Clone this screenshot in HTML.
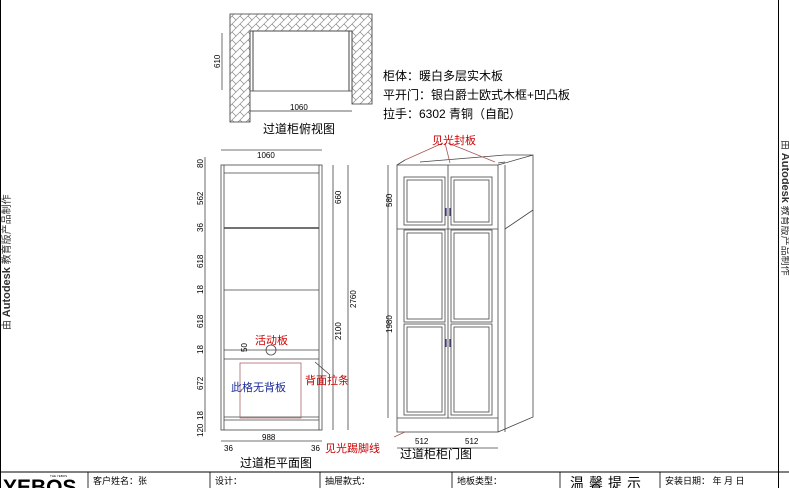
<!DOCTYPE html>
<html><head><meta charset="utf-8"><style>
body{margin:0;background:#fff;}
svg{display:block;font-family:"Liberation Sans","Noto Sans CJK SC",sans-serif;}
</style></head><body>
<svg width="789" height="488" viewBox="0 0 789 488" xmlns="http://www.w3.org/2000/svg">
<defs>
<pattern id="hb" width="8" height="8" patternUnits="userSpaceOnUse">
<path d="M0 8 L8 0 M-2 2 L2 -2 M6 10 L10 6" stroke="#888" stroke-width="0.7"/>
<path d="M0 0 L4 4" stroke="#888" stroke-width="0.7"/>
</pattern>
</defs>
<rect width="789" height="488" fill="#fff"/>
<line x1="0.5" y1="0" x2="0.5" y2="488" stroke="#000"/>
<line x1="778.5" y1="0" x2="778.5" y2="488" stroke="#000"/>
<text transform="translate(10,330) rotate(-90)" font-size="10" fill="#333">由 <tspan font-weight="bold" font-size="11">Autodesk</tspan> 教育版产品制作</text>
<text transform="translate(782,140) rotate(90)" font-size="10" fill="#333">由 <tspan font-weight="bold" font-size="11">Autodesk</tspan> 教育版产品制作</text>

<path d="M230 14 H372 V104 H352 V31 H250 V122 H230 Z" fill="url(#hb)" stroke="#333" stroke-width="0.8"/>
<rect x="250" y="31" width="102" height="60" fill="none" stroke="#444" stroke-width="0.8"/>
<line x1="253" y1="31" x2="253" y2="91" stroke="#444"/><line x1="349" y1="31" x2="349" y2="91" stroke="#444"/>
<line x1="222" y1="33" x2="222" y2="90" stroke="#333" stroke-width="0.7"/>
<text transform="translate(220,68) rotate(-90)" font-size="8">610</text>
<line x1="250" y1="111" x2="352" y2="111" stroke="#333" stroke-width="0.7"/>
<text x="290" y="110" font-size="8">1060</text>
<text x="263" y="133" font-size="12">过道柜俯视图</text>

<text x="383" y="80" font-size="12">柜体：暖白多层实木板</text>
<text x="383" y="99" font-size="12">平开门：银白爵士欧式木框+凹凸板</text>
<text x="383" y="118" font-size="12">拉手：6302 青铜（自配）</text>

<g stroke="#444" stroke-width="0.8" fill="none">
<rect x="221" y="165" width="101" height="265"/>
<line x1="224" y1="165" x2="224" y2="430"/><line x1="319" y1="165" x2="319" y2="430"/>
<line x1="224" y1="173" x2="319" y2="173"/>
<line x1="224" y1="228" x2="319" y2="228" stroke-width="1.6"/>
<line x1="224" y1="290" x2="319" y2="290"/>
<line x1="224" y1="350" x2="319" y2="350"/><line x1="224" y1="359" x2="319" y2="359"/>
<line x1="224" y1="417" x2="319" y2="417"/><line x1="224" y1="420" x2="319" y2="420"/>
<rect x="240" y="363" width="61" height="55" stroke="#a66"/>
<circle cx="271" cy="350" r="5"/>
<line x1="205" y1="157" x2="205" y2="432"/>
<line x1="333" y1="165" x2="333" y2="430"/><line x1="348" y1="165" x2="348" y2="430"/>
<line x1="221" y1="441" x2="322" y2="441"/>
<line x1="221" y1="150" x2="322" y2="150"/>
<line x1="315" y1="362" x2="330" y2="375"/>
</g>
<g font-size="8">
<text x="257" y="158">1060</text>
<text transform="translate(203,168) rotate(-90)">80</text>
<text transform="translate(203,205) rotate(-90)">562</text>
<text transform="translate(203,232) rotate(-90)">36</text>
<text transform="translate(203,268) rotate(-90)">618</text>
<text transform="translate(203,294) rotate(-90)">18</text>
<text transform="translate(203,328) rotate(-90)">618</text>
<text transform="translate(203,354) rotate(-90)">18</text>
<text transform="translate(203,390) rotate(-90)">672</text>
<text transform="translate(203,420) rotate(-90)">18</text>
<text transform="translate(203,437) rotate(-90)">120</text>
<text transform="translate(247,352) rotate(-90)">50</text>
<text transform="translate(341,204) rotate(-90)">660</text>
<text transform="translate(341,340) rotate(-90)">2100</text>
<text transform="translate(356,308) rotate(-90)">2760</text>
<text x="262" y="440">988</text>
<text x="224" y="451">36</text><text x="311" y="451">36</text>
</g>
<text x="255" y="344" font-size="11" fill="#c00">活动板</text>
<text x="305" y="384" font-size="11" fill="#c00">背面拉条</text>
<text x="231" y="391" font-size="11" fill="#1a2a9a">此格无背板</text>
<text x="240" y="467" font-size="12">过道柜平面图</text>

<g stroke="#444" stroke-width="0.8" fill="none">
<rect x="397" y="165" width="101" height="267"/>
<line x1="397" y1="229" x2="498" y2="229"/>
<line x1="397" y1="418" x2="498" y2="418"/>
<line x1="448" y1="165" x2="448" y2="418"/>
<rect x="404" y="177" width="41" height="48"/><rect x="407" y="180" width="35" height="42"/>
<rect x="451" y="177" width="41" height="48"/><rect x="454" y="180" width="35" height="42"/>
<rect x="404" y="230" width="41" height="92"/><rect x="407" y="233" width="35" height="86"/>
<rect x="451" y="230" width="41" height="92"/><rect x="454" y="233" width="35" height="86"/>
<rect x="404" y="324" width="41" height="91"/><rect x="407" y="327" width="35" height="85"/>
<rect x="451" y="324" width="41" height="91"/><rect x="454" y="327" width="35" height="85"/>
<path d="M397 165 L405 160 M498 165 L533 155 L533 417 L498 432 M505 165 V432 M498 163 L505 162 M505 229 L533 210 M420 162 L505 155 L533 155"/>
<line x1="388" y1="165" x2="388" y2="229"/><line x1="388" y1="229" x2="388" y2="418"/>
<line x1="397" y1="448" x2="498" y2="448"/>
<path d="M443 143 L405 160 M445 143 L450 163 M448 143 L495 162 M394 437 L405 432" stroke="#a55"/>
</g>
<g stroke="#226" stroke-width="1.2"><line x1="446" y1="208" x2="446" y2="216"/><line x1="450" y1="208" x2="450" y2="216"/><line x1="446" y1="339" x2="446" y2="347"/><line x1="450" y1="339" x2="450" y2="347"/></g>
<g font-size="8">
<text transform="translate(392,207) rotate(-90)">580</text>
<text transform="translate(392,333) rotate(-90)">1980</text>
<text x="415" y="444">512</text><text x="465" y="444">512</text>
</g>
<text x="432" y="144" font-size="11" fill="#c00">见光封板</text>
<text x="325" y="452" font-size="11" fill="#c00">见光踢脚线</text>
<text x="400" y="458" font-size="12">过道柜柜门图</text>

<line x1="0" y1="472" x2="789" y2="472" stroke="#000"/>
<g stroke="#000" stroke-width="0.8">
<line x1="88" y1="472" x2="88" y2="488"/><line x1="210" y1="472" x2="210" y2="488"/>
<line x1="320" y1="472" x2="320" y2="488"/><line x1="452" y1="472" x2="452" y2="488"/>
<line x1="560" y1="472" x2="560" y2="488"/><line x1="660" y1="472" x2="660" y2="488"/>
</g>
<text x="3" y="494" font-size="21" font-weight="bold">YEBOS</text>
<text x="50" y="477" font-size="3">THE YEBOS</text>
<g font-size="9">
<text x="93" y="484">客户姓名：张</text>
<text x="215" y="484">设计：</text>
<text x="325" y="484">抽屉款式：</text>
<text x="457" y="484">地板类型：</text>
<text x="665" y="484">安装日期：     年   月   日</text>
</g>
<text x="570" y="488" font-size="14" letter-spacing="5">温馨提示</text>
</svg>
</body></html>
